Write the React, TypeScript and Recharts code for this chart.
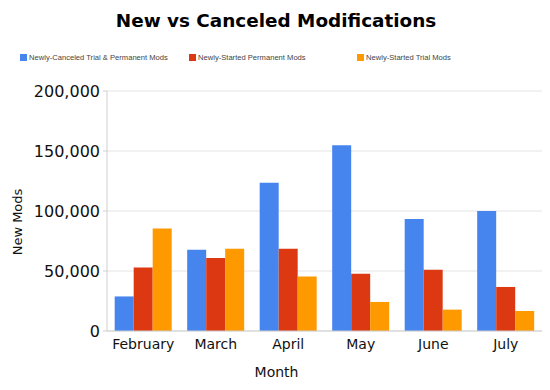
import React from "react"
import { BarChart, Bar, XAxis, YAxis, CartesianGrid } from "recharts"

const months = ["February", "March", "April", "May", "June", "July"]
const canceledMods = [28800, 67700, 123600, 154700, 93300, 100000]
const startedPermanent = [53000, 60800, 68600, 47800, 51100, 36700]
const startedTrial = [85500, 68600, 45500, 24200, 17800, 16700]
const yTicks = [0, 50000, 100000, 150000, 200000]

const SERIES = [
  { key: "canceled", name: "Newly-Canceled Trial & Permanent Mods", color: "#4684ee", left: 20 },
  { key: "permanent", name: "Newly-Started Permanent Mods", color: "#dc3912", left: 189 },
  { key: "trial", name: "Newly-Started Trial Mods", color: "#ff9900", left: 357 },
]

const FONT = "'DejaVu Sans', sans-serif"

export default function App() {
  const data = months.map((month, i) => ({
    month,
    canceled: canceledMods[i],
    permanent: startedPermanent[i],
    trial: startedTrial[i],
  }))

  return (
    <div style={{ position: "absolute", left: 0, top: 0, width: 550, height: 390, background: "#fff", fontFamily: FONT }}>
      <div
        style={{
          position: "absolute",
          top: 9,
          left: 1,
          width: 550,
          textAlign: "center",
          fontSize: 18.4,
          fontWeight: "bold",
          color: "#000",
          lineHeight: "24px",
        }}
      >
        New vs Canceled Modifications
      </div>

      {/* legend, fixed slots like the original */}
      {SERIES.map((s) => (
        <div
          key={s.key}
          style={{
            position: "absolute",
            top: 52,
            left: s.left,
            height: 10,
            display: "flex",
            alignItems: "center",
            fontFamily: "'Liberation Sans', sans-serif",
            fontSize: 7.6,
            color: "#444",
            whiteSpace: "nowrap",
          }}
        >
          <span style={{ display: "inline-block", width: 7, height: 7, background: s.color, marginRight: 2 }} />
          {s.name}
        </div>
      ))}

      <div style={{ position: "absolute", left: 0, top: 0 }}>
        <BarChart
          width={550}
          height={390}
          data={data}
          margin={{ top: 91, right: 8, bottom: 0, left: 0 }}
          barCategoryGap="10.6%"
          barGap={0}
        >
          <CartesianGrid vertical={false} stroke="#e4e4e4" />
          <XAxis
            dataKey="month"
            height={59}
            tickSize={0}
            tickMargin={8}
            axisLine={{ stroke: "#cfcfcf" }}
            tick={{ fill: "#111", fontSize: 14, fontFamily: FONT }}
            label={{
              content: ({ viewBox }: any) => (
                <text
                  x={viewBox.x + viewBox.width / 2 - 48}
                  y={viewBox.y + 46}
                  textAnchor="middle"
                  fill="#111"
                  fontSize={14}
                  fontFamily={FONT}
                >
                  Month
                </text>
              ),
            }}
          />
          <YAxis
            width={107}
            domain={[0, 200000]}
            ticks={yTicks}
            tickSize={4}
            tickMargin={3}
            axisLine={{ stroke: "#cfcfcf" }}
            tickLine={{ stroke: "#cfcfcf" }}
            tick={{ fill: "#111", fontSize: 16, fontFamily: FONT }}
            tickFormatter={(v: number) => v.toLocaleString("en-US")}
            label={{
              content: ({ viewBox }: any) => {
                const cx = 17
                const cy = viewBox.y + viewBox.height / 2 + 11
                return (
                  <text
                    x={cx}
                    y={cy}
                    transform={`rotate(-90, ${cx}, ${cy})`}
                    textAnchor="middle"
                    dominantBaseline="central"
                    fill="#111"
                    fontSize={13}
                    fontFamily={FONT}
                  >
                    New Mods
                  </text>
                )
              },
            }}
          />
          <YAxis yAxisId="frame" orientation="right" width={0} tick={false} tickLine={false} axisLine={{ stroke: "#e4e4e4" }} />
          {SERIES.map((s) => (
            <Bar key={s.key} dataKey={s.key} name={s.name} fill={s.color} isAnimationActive={false} />
          ))}
        </BarChart>
      </div>
    </div>
  )
}
